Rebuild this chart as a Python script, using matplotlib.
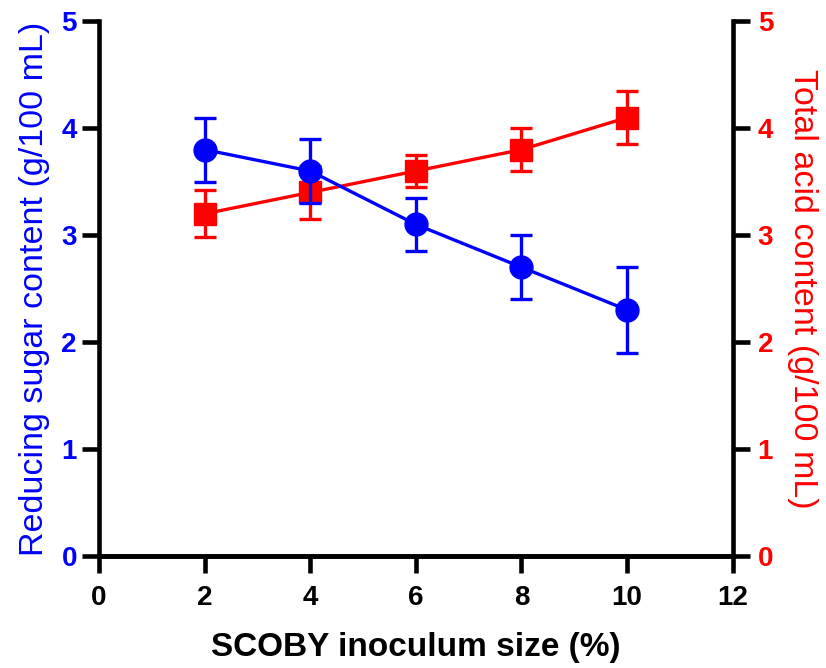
import matplotlib
matplotlib.use("Agg")
import matplotlib.pyplot as plt

plt.rcParams['font.family'] = ['Liberation Sans', 'DejaVu Sans']

inoculum = [2, 4, 6, 8, 10]
sugar = [3.8, 3.6, 3.1, 2.7, 2.3]
sugar_err = [0.3, 0.3, 0.25, 0.3, 0.4]
acid = [3.2, 3.4, 3.6, 3.8, 4.1]
acid_err = [0.22, 0.25, 0.15, 0.2, 0.25]
x_ticks = [0, 2, 4, 6, 8, 10, 12]
y_ticks = [0, 1, 2, 3, 4, 5]

BLUE = '#0000FF'
RED = '#FF0000'

fig = plt.figure(figsize=(8.26, 6.68), dpi=100)
ax = fig.add_axes([0.12, 0.168, 0.767, 0.80])
ax2 = ax.twinx()

ax2.errorbar(inoculum, acid, yerr=acid_err, color=RED, marker='s', markersize=15.5,
             linewidth=2.4, elinewidth=2.4, capsize=8, capthick=2.4, clip_on=False)
ax.errorbar(inoculum, sugar, yerr=sugar_err, color=BLUE, marker='o', markersize=16.5,
            linewidth=2.4, elinewidth=2.4, capsize=8, capthick=2.4, clip_on=False)

ax.set_zorder(ax2.get_zorder() + 1)
ax.patch.set_visible(False)

for a in (ax, ax2):
    a.set_xlim(0, 12)
    a.set_ylim(0, 5)
    a.spines['top'].set_visible(False)
    for s in ('left', 'right', 'bottom'):
        a.spines[s].set_linewidth(3.3)
        a.spines[s].set_color('black')
    a.tick_params(axis='both', direction='out', length=12, width=3.3, labelsize=20)

ax.tick_params(axis='x', pad=9)
ax.tick_params(axis='y', pad=4)
ax2.tick_params(axis='y', pad=6)

ax.set_xticks(x_ticks)
ax.set_yticks(y_ticks)
ax2.set_yticks(y_ticks)
ax.spines['right'].set_visible(False)
ax2.spines['left'].set_visible(False)

for lab in ax.get_xticklabels():
    lab.set_fontweight('bold')
for lab in ax.get_yticklabels():
    lab.set_fontweight('bold')
    lab.set_color(BLUE)
for lab in ax2.get_yticklabels():
    lab.set_fontweight('bold')
    lab.set_color(RED)

ax.set_xlabel('SCOBY inoculum size (%)', fontsize=24, fontweight='bold', labelpad=15)
ax.set_ylabel('Reducing sugar content (g/100 mL)', fontsize=24.5, color=BLUE, labelpad=8)
ax2.set_ylabel('Total acid content (g/100 mL)', fontsize=24.5, color=RED, rotation=270,
               labelpad=32)

fig.savefig('out.png', dpi=100)
